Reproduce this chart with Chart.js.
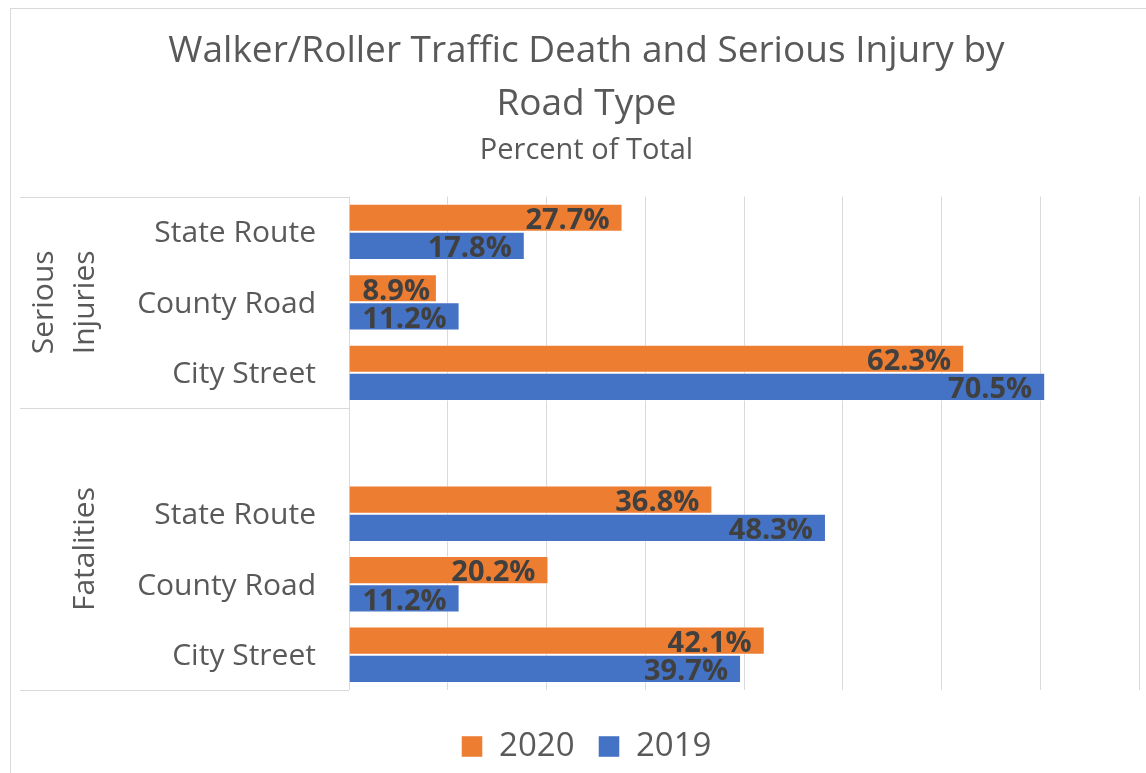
<!DOCTYPE html>
<html>
<head>
<meta charset="utf-8">
<script src="https://cdn.jsdelivr.net/npm/chart.js@4"></script>
<style>
  body { margin: 0; background: #fff; }
</style>
</head>
<body>
<canvas id="chart" width="1146" height="773"></canvas>
<script>
const roadTypes = ['State Route', 'County Road', 'City Street'];
const groups = ['Serious Injuries', 'Fatalities'];
const seriesNames = ['2020', '2019'];
const injuries2020 = [27.7, 8.9, 62.3];
const injuries2019 = [17.8, 11.2, 70.5];
const fatalities2020 = [36.8, 20.2, 42.1];
const fatalities2019 = [48.3, 11.2, 39.7];
const xTicks = [0, 10, 20, 30, 40, 50, 60, 70, 80];

const ORANGE = '#ED7D31';
const BLUE = '#4472C4';
const GREY_TEXT = '#595959';
const GRID = '#d9d9d9';
const FONT = "'Open Sans', sans-serif";

// excel style: blank category between the two groups
const labels = [...roadTypes, '', ...roadTypes];
const data2020 = [...injuries2020, null, ...fatalities2020];
const data2019 = [...injuries2019, null, ...fatalities2019];

// white card with the light border round it
const frame = {
  id: 'frame',
  beforeDraw(chart) {
    const ctx = chart.ctx;
    ctx.save();
    ctx.fillStyle = '#fff';
    ctx.fillRect(0, 0, chart.width, chart.height);
    ctx.strokeStyle = GRID;
    ctx.lineWidth = 1;
    ctx.strokeRect(10.5, 8.5, chart.width + 50, chart.height + 50);
    ctx.restore();
  }
};

// outer level of the category axis: group names and separators
const groupAxis = {
  id: 'groupAxis',
  afterDraw(chart) {
    const y = chart.scales.y;
    const ctx = chart.ctx;
    const mid = (y.getPixelForValue(2) + y.getPixelForValue(3)) / 2;
    ctx.save();
    ctx.strokeStyle = GRID;
    ctx.lineWidth = 1;
    [y.top, mid, y.bottom].forEach(py => {
      ctx.beginPath();
      ctx.moveTo(20, Math.round(py) + 0.5);
      ctx.lineTo(y.right, Math.round(py) + 0.5);
      ctx.stroke();
    });
    ctx.fillStyle = GREY_TEXT;
    ctx.font = '30px ' + FONT;
    ctx.textAlign = 'center';
    ctx.textBaseline = 'middle';
    // Serious Injuries wraps over two lines
    const c1 = (y.top + mid) / 2;
    const parts = groups[0].split(' ');
    ctx.save();
    ctx.translate(44, c1);
    ctx.rotate(-Math.PI / 2);
    ctx.fillText(parts[0], 0, 0);
    ctx.restore();
    ctx.save();
    ctx.translate(85, c1);
    ctx.rotate(-Math.PI / 2);
    ctx.fillText(parts[1], 0, 0);
    ctx.restore();
    const c2 = (mid + y.bottom) / 2;
    ctx.save();
    ctx.translate(85, c2);
    ctx.rotate(-Math.PI / 2);
    ctx.fillText(groups[1], 0, 0);
    ctx.restore();
    ctx.restore();
  }
};

// value labels at the inside end of each bar
const barLabels = {
  id: 'barLabels',
  afterDatasetsDraw(chart) {
    const ctx = chart.ctx;
    ctx.save();
    ctx.font = 'bold 29px ' + FONT;
    ctx.fillStyle = '#404040';
    ctx.textAlign = 'right';
    ctx.textBaseline = 'middle';
    chart.data.datasets.forEach((ds, i) => {
      chart.getDatasetMeta(i).data.forEach((bar, j) => {
        const v = ds.data[j];
        if (v == null) return;
        const txt = v.toFixed(1) + '%';
        const w = ctx.measureText(txt).width;
        let right = bar.x - 13;
        if (right - w < bar.base + 13) right = bar.base + 13 + w;
        ctx.fillText(txt, right, bar.y + 3);
      });
    });
    ctx.restore();
  }
};

new Chart(document.getElementById('chart'), {
  type: 'bar',
  data: {
    labels: labels,
    datasets: [
      {
        label: seriesNames[0],
        data: data2020,
        backgroundColor: ORANGE,
        borderColor: 'rgba(255,255,255,0.45)',
        borderWidth: 1
      },
      {
        label: seriesNames[1],
        data: data2019,
        backgroundColor: BLUE,
        borderColor: 'rgba(255,255,255,0.45)',
        borderWidth: 1
      }
    ]
  },
  options: {
    responsive: false,
    animation: false,
    indexAxis: 'y',
    categoryPercentage: 0.8,
    barPercentage: 1.0,
    layout: { padding: { top: 0, left: 34, right: 7, bottom: 0 } },
    scales: {
      x: {
        min: xTicks[0],
        max: xTicks[xTicks.length - 1],
        afterBuildTicks: (s) => { s.ticks = xTicks.map(v => ({ value: v })); },
        afterFit: (s) => { s.height = 16; },
        ticks: { display: false },
        grid: { color: GRID, drawTicks: false },
        border: { display: false }
      },
      y: {
        afterFit: (s) => { s.width = 315; },
        ticks: {
          padding: 33,
          labelOffset: 2,
          color: GREY_TEXT,
          font: { family: FONT, size: 30 }
        },
        grid: { display: false, drawTicks: false },
        border: { display: false }
      }
    },
    plugins: {
      title: {
        display: true,
        text: ['Walker/Roller Traffic Death and Serious Injury by', 'Road Type'],
        color: GREY_TEXT,
        font: { family: FONT, size: 37, weight: 'normal', lineHeight: 1.43 },
        padding: { top: 25, bottom: 0 }
      },
      subtitle: {
        display: true,
        text: 'Percent of Total',
        color: GREY_TEXT,
        font: { family: FONT, size: 29, weight: 'normal', lineHeight: 1.2 },
        padding: { top: 3, bottom: 28 }
      },
      legend: {
        position: 'bottom',
        labels: {
          color: GREY_TEXT,
          font: { family: FONT, size: 33 },
          boxWidth: 21,
          boxHeight: 21,
          padding: 24
        }
      },
      tooltip: { enabled: false }
    }
  },
  plugins: [frame, groupAxis, barLabels]
});
</script>
</body>
</html>
